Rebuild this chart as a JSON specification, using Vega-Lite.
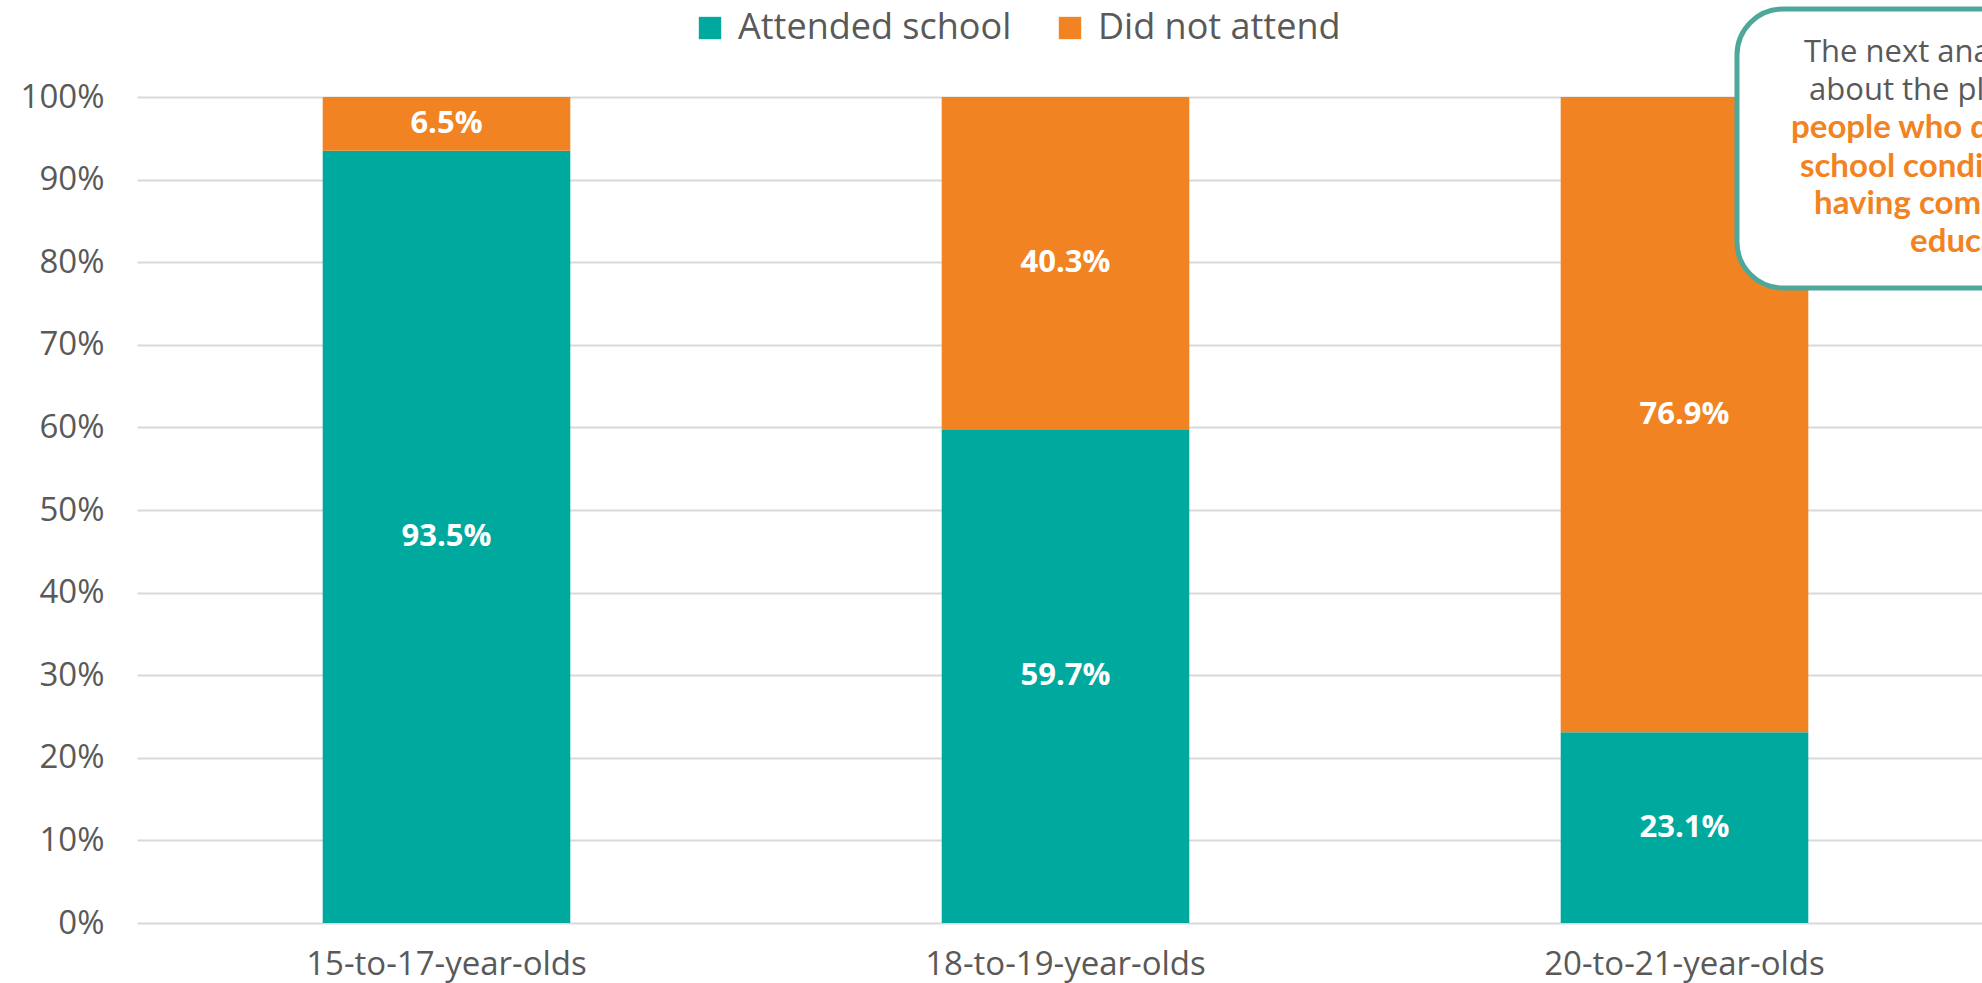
{
  "$schema": "https://vega.github.io/schema/vega-lite/v6.json",
  "autosize": "none",
  "padding": {"left": 137, "top": 97, "right": 0, "bottom": 60},
  "width": 1857,
  "height": 826,
  "background": "white",
  "config": {
    "font": "Open Sans",
    "view": {"stroke": null}
  },
  "datasets": {
    "main": [
      {"age": "15-to-17-year-olds", "status": "Attended school", "share": 0.935},
      {"age": "15-to-17-year-olds", "status": "Did not attend", "share": 0.065},
      {"age": "18-to-19-year-olds", "status": "Attended school", "share": 0.597},
      {"age": "18-to-19-year-olds", "status": "Did not attend", "share": 0.403},
      {"age": "20-to-21-year-olds", "status": "Attended school", "share": 0.231},
      {"age": "20-to-21-year-olds", "status": "Did not attend", "share": 0.769}
    ]
  },
  "resolve": {"scale": {"x": "independent"}},
  "layer": [
    {
      "data": {"name": "main"},
      "layer": [
        {
          "mark": {"type": "bar"},
          "encoding": {
            "x": {
              "field": "age", "type": "nominal", "sort": null,
              "scale": {"paddingInner": 0.6, "paddingOuter": 0.3},
              "axis": {"title": null, "labelAngle": 0, "labelFontSize": 33, "labelColor": "#595959", "labelPadding": 25, "labelLimit": 0, "domain": false, "ticks": false}
            },
            "y": {
              "field": "share", "type": "quantitative", "stack": "zero",
              "scale": {"domain": [0, 1], "nice": false},
              "axis": {"title": null, "format": ".0%", "values": [0, 0.1, 0.2, 0.3, 0.4, 0.5, 0.6, 0.7, 0.8, 0.9, 1], "labelFontSize": 33, "labelColor": "#595959", "labelPadding": 33, "labelLimit": 0, "domain": false, "ticks": false, "gridColor": "#D9D9D9", "gridWidth": 2}
            },
            "color": {
              "field": "status", "type": "nominal",
              "scale": {"domain": ["Attended school", "Did not attend"], "range": ["#00A99D", "#F28322"]},
              "legend": {"title": null, "orient": "none", "direction": "horizontal", "legendX": 555, "legendY": -87, "symbolType": "square", "symbolSize": 500, "symbolStrokeWidth": 0, "labelFontSize": 36, "labelColor": "#595959", "labelOffset": 10, "labelLimit": 0, "columnPadding": 40}
            },
            "order": {"field": "status", "type": "nominal", "sort": "ascending"}
          }
        },
        {
          "mark": {"type": "text", "color": "white", "fontWeight": "bold", "fontSize": 31, "baseline": "middle", "align": "center"},
          "encoding": {
            "x": {"field": "age", "type": "nominal", "sort": null},
            "y": {"field": "share", "type": "quantitative", "stack": "zero", "bandPosition": 0.5},
            "detail": {"field": "status"},
            "order": {"field": "status", "type": "nominal", "sort": "ascending"},
            "text": {"field": "share", "type": "quantitative", "format": ".1%"}
          }
        }
      ]
    },
    {
      "data": {"values": [{}]},
      "layer": [
        {
          "mark": {"type": "rect", "fill": "white", "stroke": "#4DA89B", "strokeWidth": 5, "cornerRadius": 46},
          "encoding": {
            "x": {"datum": 0.8616, "type": "quantitative", "scale": {"domain": [0, 1], "nice": false, "zero": false}, "axis": null},
            "x2": {"datum": 1.093},
            "y": {"datum": 1.1065, "type": "quantitative"},
            "y2": {"datum": 0.7688}
          }
        },
        {
          "mark": {"type": "text", "text": "The next analysis is focused", "color": "#595959", "fontSize": 31, "align": "left", "baseline": "alphabetic"},
          "encoding": {"x": {"datum": 0.8977, "type": "quantitative"}, "y": {"datum": 1.0424, "type": "quantitative"}}
        },
        {
          "mark": {"type": "text", "text": "about the place of young", "color": "#595959", "fontSize": 31, "align": "left", "baseline": "alphabetic"},
          "encoding": {"x": {"datum": 0.9004, "type": "quantitative"}, "y": {"datum": 0.9964, "type": "quantitative"}}
        },
        {
          "mark": {"type": "text", "text": "people who did not attend", "color": "#F28322", "font": "Lato", "fontWeight": "bold", "fontSize": 33, "align": "left", "baseline": "alphabetic"},
          "encoding": {"x": {"datum": 0.8907, "type": "quantitative"}, "y": {"datum": 0.9504, "type": "quantitative"}}
        },
        {
          "mark": {"type": "text", "text": "school conditional on not", "color": "#F28322", "font": "Lato", "fontWeight": "bold", "fontSize": 33, "align": "left", "baseline": "alphabetic"},
          "encoding": {"x": {"datum": 0.8955, "type": "quantitative"}, "y": {"datum": 0.9031, "type": "quantitative"}}
        },
        {
          "mark": {"type": "text", "text": "having completed basic", "color": "#F28322", "font": "Lato", "fontWeight": "bold", "fontSize": 33, "align": "left", "baseline": "alphabetic"},
          "encoding": {"x": {"datum": 0.9031, "type": "quantitative"}, "y": {"datum": 0.8584, "type": "quantitative"}}
        },
        {
          "mark": {"type": "text", "text": "education.", "color": "#F28322", "font": "Lato", "fontWeight": "bold", "fontSize": 33, "align": "left", "baseline": "alphabetic"},
          "encoding": {"x": {"datum": 0.9548, "type": "quantitative"}, "y": {"datum": 0.8123, "type": "quantitative"}}
        }
      ]
    }
  ]
}
